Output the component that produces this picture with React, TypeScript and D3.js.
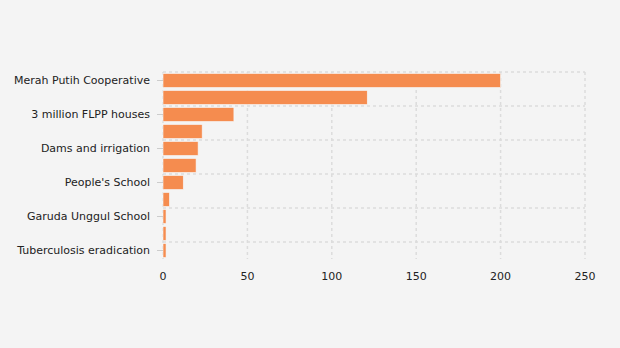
import React from "react";
import * as d3 from "d3";

const categories = [
  "Merah Putih Cooperative",
  "Free nutritious meals",
  "3 million FLPP houses",
  "Food security",
  "Dams and irrigation",
  "Free health checks",
  "People's School",
  "Hospital upgrades",
  "Garuda Unggul School",
  "Stunting reduction",
  "Tuberculosis eradication",
];
const values = [200, 121, 42, 23.2, 20.8, 19.6, 12, 3.8, 1.8, 1.8, 1.8];
const xTicks = [0, 50, 100, 150, 200, 250];

const W = 620;
const H = 348;
const M = { left: 163, right: 35, top: 72, bottom: 89 };

export default function App() {
  const x = d3.scaleLinear().domain([0, 250]).range([M.left, W - M.right]);
  const y = d3
    .scaleBand<string>()
    .domain(categories)
    .range([M.top, H - M.bottom])
    .paddingInner(0.18)
    .paddingOuter(0.09);
  const step = y.step();
  const font = "'DejaVu Sans', Verdana, sans-serif";
  const top = M.top;
  const bottom = H - M.bottom;
  return (
    <div style={{ position: "fixed", left: 0, top: 0 }}>
      <svg width={W} height={H} style={{ display: "block", background: "#f4f4f4" }}>
        <rect width={W} height={H} fill="#f4f4f4" />
        {/* vertical grid */}
        {xTicks.map((t) => (
          <line
            key={"vx" + t}
            x1={x(t)}
            x2={x(t)}
            y1={top}
            y2={bottom}
            stroke="#dcdcdc"
            strokeWidth={1.5}
            strokeDasharray="3,3"
          />
        ))}
        {/* horizontal grid at every other band start */}
        {categories.map((c, i) =>
          i % 2 === 0 ? (
            <line
              key={"hy" + i}
              x1={x(0)}
              x2={x(250)}
              y1={top + i * step}
              y2={top + i * step}
              stroke="#dcdcdc"
              strokeWidth={1.5}
              strokeDasharray="3,3"
            />
          ) : null
        )}
        {/* bars */}
        {categories.map((c, i) => (
          <rect
            key={"b" + i}
            x={x(0)}
            y={y(c)!}
            width={x(values[i]) - x(0)}
            height={y.bandwidth()}
            fill="#f58c4f"
            stroke="#f7f7f7"
            strokeWidth={0.6}
          />
        ))}
        {/* y labels */}
        {categories.map((c, i) =>
          i % 2 === 0 ? (
            <g key={"yl" + i}>
              <line
                x1={x(0) - 6}
                x2={x(0)}
                y1={top + i * step + step / 2}
                y2={top + i * step + step / 2}
                stroke="#cccccc"
              />
              <text
                x={x(0) - 13}
                y={top + i * step + step / 2}
                dy="0.35em"
                textAnchor="end"
                fontFamily={font}
                fontSize={11}
                fill="#222"
              >
                {c}
              </text>
            </g>
          ) : null
        )}
        {/* x labels */}
        {xTicks.map((t) => (
          <text
            key={"xl" + t}
            x={x(t)}
            y={bottom + 17}
            dy="0.35em"
            textAnchor="middle"
            fontFamily={font}
            fontSize={11}
            fill="#222"
          >
            {t}
          </text>
        ))}
      </svg>
    </div>
  );
}
